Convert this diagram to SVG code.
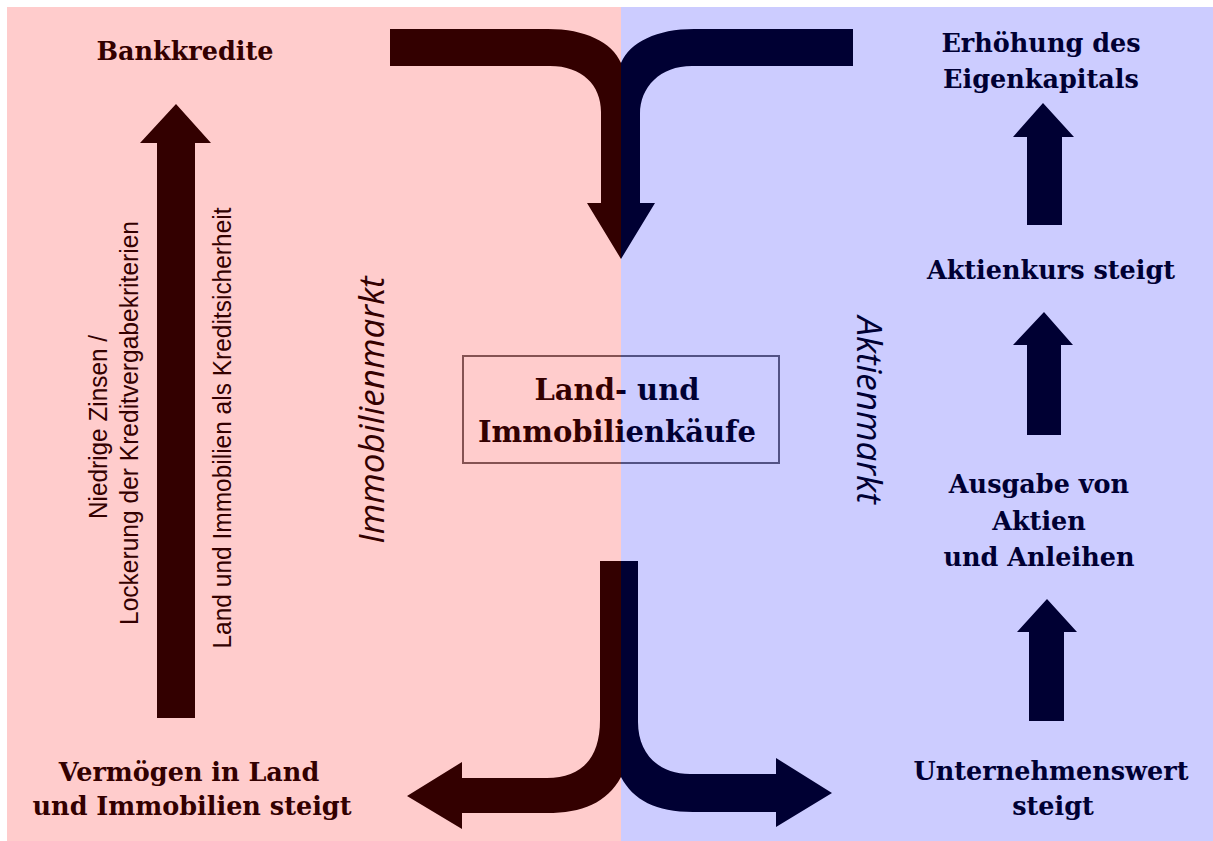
<svg xmlns="http://www.w3.org/2000/svg" width="1213" height="841" viewBox="0 0 1213 841">
<defs>
<linearGradient id="split" gradientUnits="userSpaceOnUse" x1="0" y1="0" x2="1213" y2="0">
<stop offset="0" stop-color="#330000"/>
<stop offset="0.51195" stop-color="#330000"/>
<stop offset="0.51195" stop-color="#000033"/>
<stop offset="1" stop-color="#000033"/>
</linearGradient>
<style>
.lbl{font-family:"DejaVu Serif","Liberation Serif",serif;font-weight:bold;font-size:25.5px;text-anchor:middle}
.red{fill:#330000}
.blue{fill:#000033}
.mkt{font-family:"Open Sans","Liberation Sans",sans-serif;font-style:italic;font-size:35px;text-anchor:middle}
.cond{font-family:"Liberation Sans","DejaVu Sans",sans-serif;font-size:26px;text-anchor:middle;fill:#330000}
</style>
</defs>
<rect x="0" y="0" width="1213" height="841" fill="#ffffff"/>
<rect x="7" y="7" width="614" height="834" fill="#ffcccc"/>
<rect x="621" y="7" width="592" height="834" fill="#ccccff"/>

<g id="connectors">
<path class="red" d="M390,29 L548,29 C585,29 612,42 621,63 L621,259 L587,203 L601,203 L601,112 C601,85 582,66 550,66 L390,66 Z"/>
<path class="blue" d="M853,29 L694,29 C657,29 630,42 621,63 L621,259 L655,203 L640,203 L640,114 C640,87 660,66 692,66 L853,66 Z"/>
<path class="red" d="M600,561 L621,561 L621,777 C607,803 582,813 547,813 L462,813 L462,829 L407,796 L462,762 L462,778 L547,778 C580,778 600,760 600,720 Z"/>
<path class="blue" d="M621,561 L638,561 L638,722 C638,755 660,774 690,774 L776,774 L776,758 L832,793 L776,827 L776,812 L693,812 C656,812 633,800 621,777 Z"/>
<polygon class="red" points="176,104 211,143 195,143 195,718 157,718 157,143 140,143"/>
<polygon class="blue" points="1043,103 1074,137 1062,137 1062,225 1027,225 1027,137 1013,137"/>
<polygon class="blue" points="1044,312 1073,345 1061,345 1061,435 1027,435 1027,345 1013,345"/>
<polygon class="blue" points="1047,599 1077,632 1064,632 1064,721 1029,721 1029,632 1017,632"/>
<text class="cond" transform="translate(107,427) rotate(-90)" textLength="184" lengthAdjust="spacingAndGlyphs">Niedrige Zinsen /</text>
<text class="cond" transform="translate(138,423) rotate(-90)" textLength="404" lengthAdjust="spacingAndGlyphs">Lockerung der Kreditvergabekriterien</text>
<text class="cond" transform="translate(231,428) rotate(-90)" textLength="441" lengthAdjust="spacingAndGlyphs">Land und Immobilien als Kreditsicherheit</text>
</g>

<g id="markets">
<text class="mkt red" transform="translate(384,410) rotate(-90)">Immobilienmarkt</text>
<text class="mkt blue" transform="translate(857,410) rotate(90)">Aktienmarkt</text>
</g>

<g id="bankkredite"><text class="lbl red" x="185" y="60">Bankkredite</text></g>
<g id="vermoegen">
<text class="lbl red" x="189" y="781">Vermögen in Land</text>
<text class="lbl red" x="192" y="815">und Immobilien steigt</text>
</g>
<g id="kaeufe">
<rect x="463" y="356" width="316" height="107" fill="none" stroke="url(#split)" stroke-opacity="0.6" stroke-width="2"/>
<text class="lbl" x="617" y="400" fill="url(#split)" style="font-size:29px">Land- und</text>
<text class="lbl" x="617" y="442" fill="url(#split)" style="font-size:29px">Immobilienkäufe</text>
</g>
<g id="eigenkapital">
<text class="lbl blue" x="1041" y="52">Erhöhung des</text>
<text class="lbl blue" x="1041" y="88">Eigenkapitals</text>
</g>
<g id="aktienkurs"><text class="lbl blue" x="1051" y="279">Aktienkurs steigt</text></g>
<g id="ausgabe">
<text class="lbl blue" x="1039" y="493">Ausgabe von</text>
<text class="lbl blue" x="1039" y="530">Aktien</text>
<text class="lbl blue" x="1039" y="566">und Anleihen</text>
</g>
<g id="unternehmenswert">
<text class="lbl blue" x="1051" y="780">Unternehmenswert</text>
<text class="lbl blue" x="1053" y="815">steigt</text>
</g>
</svg>
